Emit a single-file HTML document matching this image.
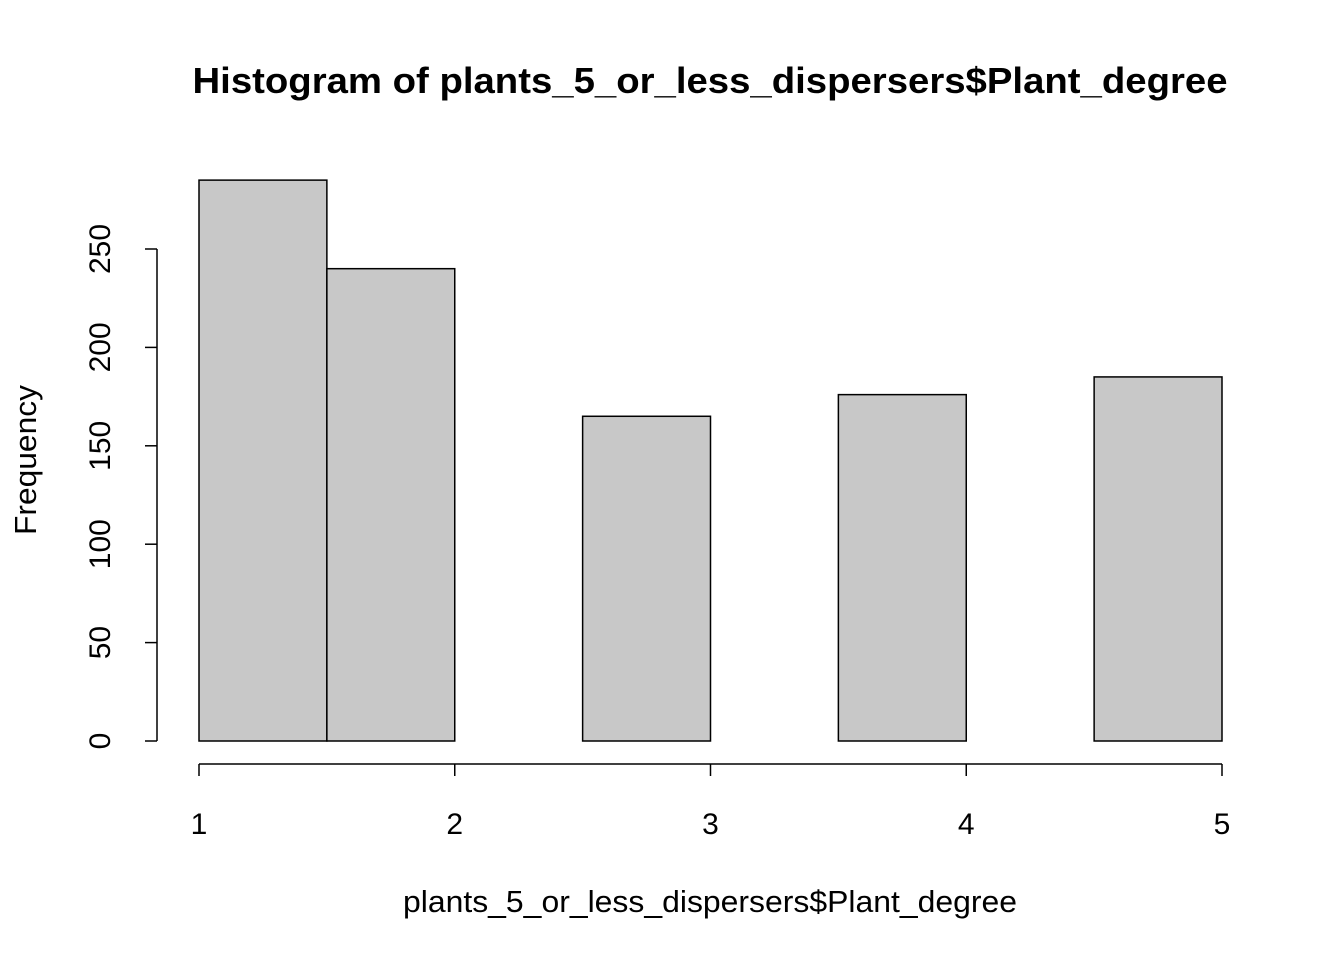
<!DOCTYPE html>
<html><head><meta charset="utf-8"><style>
body{margin:0;background:#fff}
svg{display:block;font-family:"Liberation Sans",Arial,sans-serif}
</style></head><body>
<svg id="chart" width="1344" height="960" viewBox="0 0 1344 960">
<text x="710" y="93" text-anchor="middle" font-size="36" font-weight="bold" textLength="1035" lengthAdjust="spacingAndGlyphs">Histogram of plants_5_or_less_dispersers$Plant_degree</text>
<text x="710" y="912" text-anchor="middle" font-size="31" textLength="614" lengthAdjust="spacingAndGlyphs">plants_5_or_less_dispersers$Plant_degree</text>
<text transform="translate(36,460) rotate(-90)" text-anchor="middle" font-size="31" textLength="150" lengthAdjust="spacingAndGlyphs">Frequency</text>
<g id="bars"></g><g id="yaxis"></g><g id="xaxis"></g>
</svg>
<script>
const breaks=[1,1.5,2,2.5,3,3.5,4,4.5,5];
const counts=[285,240,0,165,0,176,0,185];
const yTicks=[0,50,100,150,200,250];
const xTicks=[1,2,3,4,5];
const NS="http://www.w3.org/2000/svg";
const xs=v=>199+(v-1)*(1222-199)/4;
const ys=v=>741-v*(741-249)/250;
function mk(t,a,p){const e=document.createElementNS(NS,t);for(const k in a)e.setAttribute(k,a[k]);p.appendChild(e);return e;}
const bars=document.getElementById('bars');
counts.forEach((c,i)=>{
 const r=mk('rect',{x:xs(breaks[i]),y:ys(c),width:xs(breaks[i+1])-xs(breaks[i]),height:ys(0)-ys(c),fill:'#c8c8c8',stroke:'#000','stroke-width':1.5},bars);
 
 
});
const ya=document.getElementById('yaxis');
const yl=mk('line',{x1:157,x2:157,y1:ys(yTicks[0]),y2:ys(yTicks[yTicks.length-1]),stroke:'#000','stroke-width':1.5},ya);


yTicks.forEach(t=>{
 const l=mk('line',{x1:145,x2:157,y1:ys(t),y2:ys(t),stroke:'#000','stroke-width':1.5},ya);
 
 
 const tx=mk('text',{transform:`translate(110,${ys(t)}) rotate(-90)`,'text-anchor':'middle','font-size':30},ya);
 tx.textContent=t;
 
 
});
const xa=document.getElementById('xaxis');
const xl=mk('line',{x1:xs(xTicks[0]),x2:xs(xTicks[xTicks.length-1]),y1:764,y2:764,stroke:'#000','stroke-width':1.5},xa);


xTicks.forEach(t=>{
 const l=mk('line',{x1:xs(t),x2:xs(t),y1:764,y2:776,stroke:'#000','stroke-width':1.5},xa);
 
 
 const tx=mk('text',{x:xs(t),y:834,'text-anchor':'middle','font-size':30},xa);
 tx.textContent=t;
 
 
});
</script>
</body></html>
